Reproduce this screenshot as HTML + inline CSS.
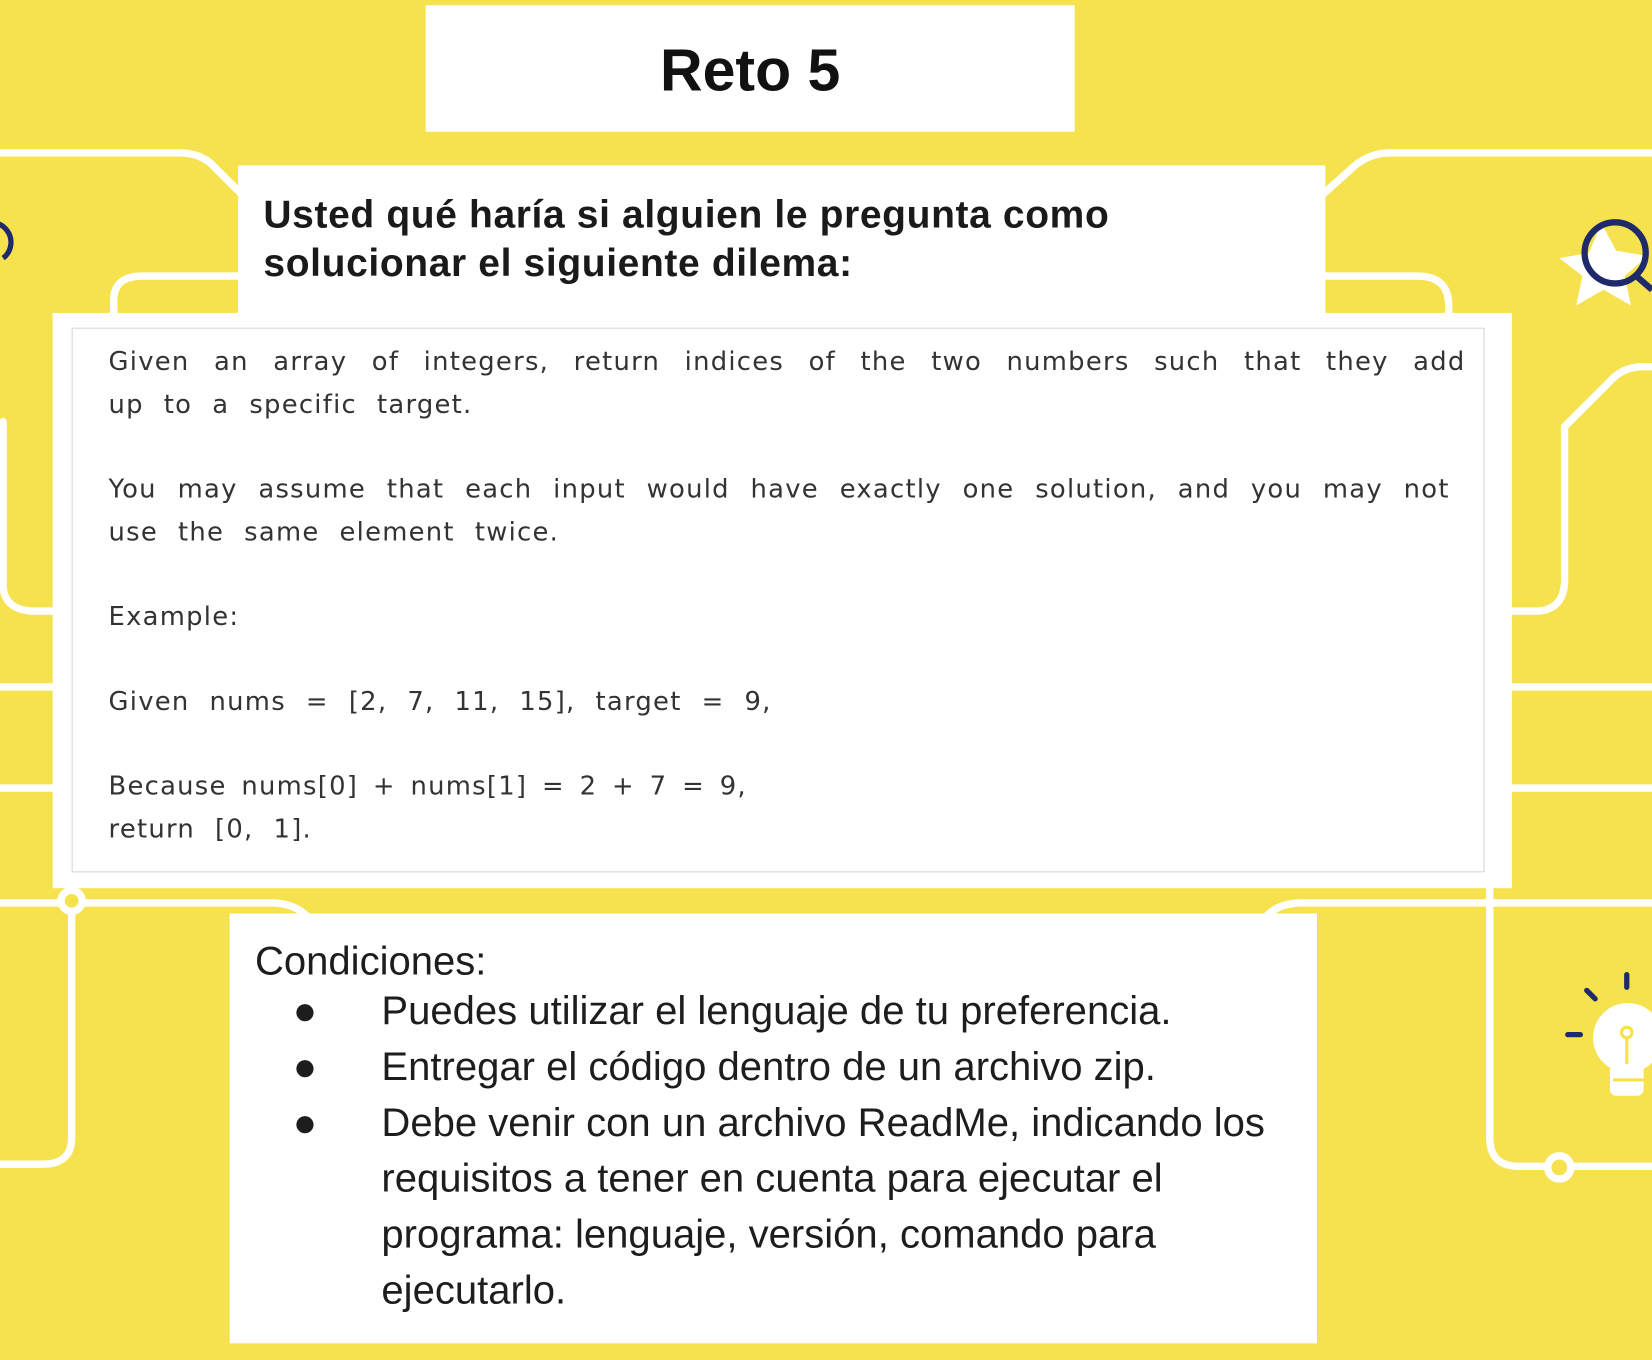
<!DOCTYPE html>
<html><head><meta charset="utf-8"><style>
html,body{margin:0;padding:0;}
body{width:1652px;height:1360px;overflow:hidden;background:#f6e24e;}
#s{position:absolute;left:0;top:0;width:1568px;height:1291px;transform:scale(1.0536);transform-origin:0 0;background:#f6e24e;}
.box{position:absolute;background:#fff;}
.t{position:absolute;white-space:nowrap;}
.code{position:absolute;left:103px;width:1288px;font-family:"DejaVu Sans","Liberation Sans",sans-serif;font-size:24.5px;color:#333;letter-spacing:1.2px;word-spacing:10px;line-height:41px;white-space:nowrap;}
.j{text-align:justify;text-align-last:justify;white-space:normal;}
.cond{font-family:"Liberation Sans",Arial,sans-serif;font-size:38px;color:#1d1d1d;}
</style></head><body><div id="s">
<svg width="1568" height="1291" style="position:absolute;left:0;top:0" fill="none" stroke="#fff" stroke-width="7" stroke-linecap="round">
<path d="M0 145 L170 145 Q188 145 200 155 L230 185"/>
<path d="M108 297 L108 285 Q108 262 135 262 L230 262"/>
<path d="M3 400 L3 555 Q3 578 30 580 L52 580"/>
<path d="M0 652 L52 652 M0 748 L52 748"/>
<path d="M0 857 L260 857 Q280 858 292 870"/>
<path d="M68 857 L68 1080 Q68 1105 40 1105 L0 1105"/>
<path d="M1255 185 L1285 158 Q1300 145 1320 145 L1568 145"/>
<path d="M1255 262 L1345 262 Q1375 262 1375 290 L1375 297"/>
<path d="M1433 580 L1460 580 Q1485 578 1485 550 L1485 405 L1528 362 Q1540 348 1560 348 L1568 348"/>
<path d="M1433 652 L1568 652 M1433 748 L1568 748"/>
<path d="M1200 872 Q1212 857 1235 857 L1568 857"/>
<path d="M1414 843 L1414 1080 Q1414 1107 1442 1107 L1568 1107"/>
<circle cx="68" cy="855" r="10" fill="#f6e24e"/>
<circle cx="1480" cy="1108" r="11" fill="#f6e24e"/>
</svg>
<svg width="1568" height="1291" style="position:absolute;left:0;top:0">
<polygon points="1480,245 1508,240 1520,212 1534,238 1564,243 1542,262 1548,290 1522,275 1496,290 1502,262" fill="#fff"/>
<circle cx="1533" cy="240" r="29" fill="none" stroke="#1f2a6b" stroke-width="6"/>
<line x1="1553" y1="262" x2="1568" y2="275" stroke="#1f2a6b" stroke-width="6"/>
<path d="M-20 215 A14 14 0 0 1 3 245" fill="none" stroke="#1f2a6b" stroke-width="5"/>
<circle cx="1545" cy="985" r="33" fill="#fff"/>
<rect x="1528" y="1010" width="32" height="30" rx="6" fill="#fff"/>
<g stroke="#f6e24e" stroke-width="3" fill="none"><circle cx="1544" cy="980" r="5"/><line x1="1544" y1="985" x2="1544" y2="1010"/><line x1="1531" y1="1025" x2="1560" y2="1025"/></g>
<g stroke="#1f2a6b" stroke-width="5" stroke-linecap="round"><line x1="1544" y1="925" x2="1544" y2="937"/><line x1="1506" y1="940" x2="1514" y2="948"/><line x1="1488" y1="982" x2="1500" y2="982"/></g>
</svg>
<div class="box" style="left:404px;top:5px;width:616px;height:120px;"></div>
<div class="t" style="left:404px;width:616px;top:34px;text-align:center;font-family:'Liberation Sans',Arial,sans-serif;font-weight:bold;font-size:56px;color:#111;">Reto 5</div>
<div class="box" style="left:226px;top:157px;width:1032px;height:141px;"></div>
<div class="t" style="left:250px;top:181px;font-family:'Liberation Sans',Arial,sans-serif;font-weight:bold;font-size:37px;letter-spacing:0.6px;line-height:46px;color:#1a1a1a;">Usted qué haría si alguien le pregunta como<br>solucionar el siguiente dilema:</div>
<div class="box" style="left:50px;top:297px;width:1385px;height:546px;"></div>
<div style="position:absolute;left:68px;top:311px;width:1339px;height:515px;border:1px solid #d6d6d6;"></div>
<div class="code j" style="top:322px;word-spacing:4px;">Given an array of integers, return indices of the two numbers such that they add</div>
<div class="code" style="top:363px;">up to a specific target.</div>
<div class="code j" style="top:443px;width:1273px;word-spacing:4px;">You may assume that each input would have exactly one solution, and you may not</div>
<div class="code" style="top:484px;">use the same element twice.</div>
<div class="code" style="top:564px;">Example:</div>
<div class="code" style="top:645px;">Given nums = [2, 7, 11, 15], target = 9,</div>
<div class="code" style="top:725px;word-spacing:5px;">Because nums[0] + nums[1] = 2 + 7 = 9,</div>
<div class="code" style="top:766px;">return [0, 1].</div>
<div class="box" style="left:218px;top:867px;width:1032px;height:408px;"></div>
<div class="t cond" style="left:242px;top:892px;">Condiciones:</div>
<div class="t cond" style="left:278px;top:939px;">●</div>
<div class="t cond" style="left:278px;top:992px;">●</div>
<div class="t cond" style="left:278px;top:1045px;">●</div>
<div class="t cond" style="left:362px;top:939px;">Puedes utilizar el lenguaje de tu preferencia.</div>
<div class="t cond" style="left:362px;top:992px;">Entregar el código dentro de un archivo zip.</div>
<div class="t cond" style="left:362px;line-height:53px;top:1040px;">Debe venir con un archivo ReadMe, indicando los<br>requisitos a tener en cuenta para ejecutar el<br>programa: lenguaje, versión, comando para<br>ejecutarlo.</div>
</div></body></html>
